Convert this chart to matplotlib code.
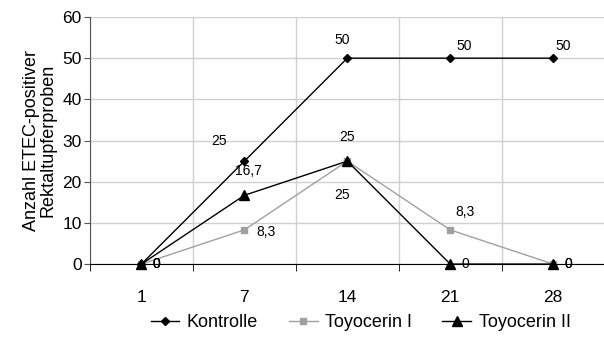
import matplotlib
matplotlib.use("Agg")
import matplotlib.pyplot as plt
import numpy as np

plt.rcParams['font.family'] = ['Liberation Sans', 'DejaVu Sans']

days = ["1", "7", "14", "21", "28"]
kontrolle = [0, 25, 50, 50, 50]
toyo1 = [0, 8.3, 25, 8.3, 0]
toyo2 = [0, 16.7, 25, 0, 0]
ylabel = "Anzahl ETEC-positiver\nRektaltupferproben"

def fmt(v):
    return ("%g" % v).replace(".", ",")

fig = plt.figure(figsize=(6.04, 3.47), dpi=100)
ax = fig.add_axes([0.149, 0.239, 0.852, 0.712])
x = np.arange(len(days))

ax.plot(x, kontrolle, color='black', lw=1.0, marker='D', ms=4.5, label='Kontrolle', zorder=3, clip_on=False)
ax.plot(x, toyo1, color='#a0a0a0', lw=1.0, marker='s', ms=4.5, label='Toyocerin I', zorder=2, clip_on=False)
ax.plot(x, toyo2, color='black', lw=1.0, marker='^', ms=6.5, label='Toyocerin II', zorder=4, clip_on=False)

ax.set_xlim(-0.5, len(days) - 0.5)
ax.set_ylim(0, 60)
ax.set_yticks(np.arange(0, 61, 10))
ax.set_xticks(x)
ax.set_xticklabels(days, fontsize=12.5)
ax.set_xticks(np.arange(-0.5, len(days)), minor=True)
ax.tick_params(axis='x', which='major', length=0, pad=19)
ax.tick_params(axis='x', which='minor', length=5, direction='out', color='black')
ax.tick_params(axis='y', labelsize=12.5, length=4, direction='out', pad=2, color='#555555')
ax.grid(True, which='major', axis='y', color='#d0d0d0', lw=1)
ax.grid(True, which='minor', axis='x', color='#d0d0d0', lw=1)
for s in ['top', 'right']:
    ax.spines[s].set_visible(False)
ax.spines['left'].set_color('#555555')
ax.spines['bottom'].set_color('black')
ax.set_axisbelow(True)
ax.set_ylabel(ylabel, fontsize=13, labelpad=4, linespacing=1.0)

fs = 10
def lab(vals, offs):
    for i, v in enumerate(vals):
        if offs[i] is None:
            continue
        ax.annotate(fmt(v), (x[i], v), xytext=offs[i], textcoords='offset pixels',
                    ha='center', va='center', fontsize=fs, zorder=6)

lab(kontrolle, [(15, 0), (-25, 20), (-5, 18), (14, 12), (10, 12)])
lab(toyo1, [(15, 0), (22, -2), (-5, -34), (15, 18), (15, 0)])
lab(toyo2, [(15, 0), (4, 24), (0, 24), (15, 0), (15, 0)])

fig.legend(loc='center', bbox_to_anchor=(0.597, 0.07), ncol=3, frameon=False,
           fontsize=13, handlelength=1.6, columnspacing=1.7, handletextpad=0.4)
fig.savefig("out.png", dpi=100)
